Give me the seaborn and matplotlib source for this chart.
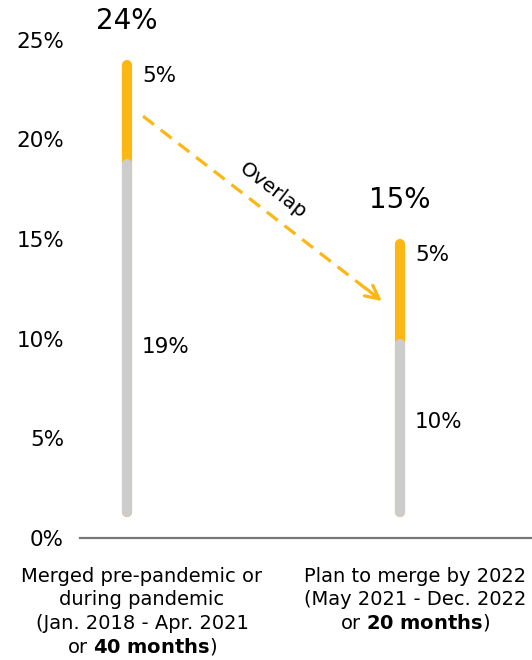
import matplotlib
matplotlib.use("Agg")
import matplotlib.pyplot as plt
import matplotlib.transforms as mtransforms
import seaborn as sns
import pandas as pd

# Share of deals: base (before overlap) and overlap portion, in percent
category_lines = [
    ["Merged pre-pandemic or", "during pandemic", "(Jan. 2018 - Apr. 2021",
     r"or $\mathbf{40\ months}$)"],
    ["Plan to merge by 2022", "(May 2021 - Dec. 2022",
     r"or $\mathbf{20\ months}$)"],
]
base_values = [19, 10]
overlap_values = [5, 5]
totals = [b + o for b, o in zip(base_values, overlap_values)]
y_ticks = [0, 5, 10, 15, 20, 25]
y_tick_labels = ["0%", "5%", "10%", "15%", "20%", "25%"]

YELLOW = "#FCB712"
GREY = "#CCCCCC"
FONT = "DejaVu Sans"

sns.set_theme(style="white")
plt.rcParams["font.family"] = [FONT]
plt.rcParams["mathtext.fontset"] = "dejavusans"
plt.rcParams["text.color"] = "black"
plt.rcParams["ytick.color"] = "black"

fig = plt.figure(figsize=(5.32, 6.60), dpi=100)
ax = fig.add_axes([80 / 532, 122 / 660, 452 / 532, 538 / 660])

ax.set_xlim(-0.172, 1.484)
ax.set_ylim(0, 27)
PX_PER_UNIT_Y = 538 / 27
PX_PER_UNIT_X = 452 / (1.484 + 0.172)

LW = 7.3                                        # bar stroke width, points
cap = (LW / 72 * 100 / 2) / PX_PER_UNIT_Y       # round cap radius, data units
start = 1.05 + cap

# Segments: full stacked total in yellow, base drawn over it in grey
rows = []
for i, (b, t) in enumerate(zip(base_values, totals)):
    rows += [dict(x=i, y=start, seg=f"tot{i}", part="total"),
             dict(x=i, y=t - cap, seg=f"tot{i}", part="total"),
             dict(x=i, y=start, seg=f"base{i}", part="base"),
             dict(x=i, y=b - cap, seg=f"base{i}", part="base")]
df = pd.DataFrame(rows)

sns.lineplot(data=df[df.part == "total"], x="x", y="y", units="seg",
             estimator=None, sort=False, color=YELLOW, lw=LW,
             solid_capstyle="round", ax=ax)
sns.lineplot(data=df[df.part == "base"], x="x", y="y", units="seg",
             estimator=None, sort=False, color=GREY, lw=LW,
             solid_capstyle="round", ax=ax)

# Value labels
dx = 15 / PX_PER_UNIT_X
base_label_shift = [0.08, 0.82]
for i, (b, o, t) in enumerate(zip(base_values, overlap_values, totals)):
    ax.text(i, t + 1.95, f"{t}%", ha="center", va="center", fontsize=20)
    ax.text(i + dx, t - 0.8, f"{o}%", ha="left", va="center", fontsize=15.5)
    ax.text(i + dx, b / 2 + base_label_shift[i], f"{b}%",
            ha="left", va="center", fontsize=15.5)

# Dashed overlap arrow
x0, y0 = 0.059, 21.17
x1, y1 = 0.934, 11.89
ax.plot([x0, x1 - 0.012], [y0, y1 + 0.13], color=YELLOW, lw=2.3,
        ls=(0, (4.3, 2.7)))
ax.annotate("", xy=(x1, y1), xytext=(x1 - 0.06, y1 + 0.65),
            arrowprops=dict(arrowstyle="->", color=YELLOW, lw=2.3,
                            mutation_scale=24, shrinkA=0, shrinkB=0))
ax.text(0.535, 17.41, "Overlap", rotation=-37.5, rotation_mode="anchor",
        ha="center", va="center", fontsize=14.5)

# Axes styling
ax.set_yticks(y_ticks)
ax.set_yticklabels(y_tick_labels, fontsize=15.5)
ax.tick_params(axis="y", length=0, pad=11.5)
ax.set_xticks([])
ax.set_xlabel("")
ax.set_ylabel("")
for side in ["left", "right", "top"]:
    ax.spines[side].set_visible(False)
ax.spines["bottom"].set_color("#777777")
ax.spines["bottom"].set_linewidth(1.6)

# Category labels under the axis, one baseline per line
trans = mtransforms.blended_transform_factory(ax.transData, fig.transFigure)
for i, lines in enumerate(category_lines):
    for k, line in enumerate(lines):
        ybase = 582 + 23.4 * k
        ax.text(i + dx, 1 - ybase / 660, line, transform=trans,
                ha="center", va="baseline", fontsize=14)

fig.savefig("out.png", dpi=100)
